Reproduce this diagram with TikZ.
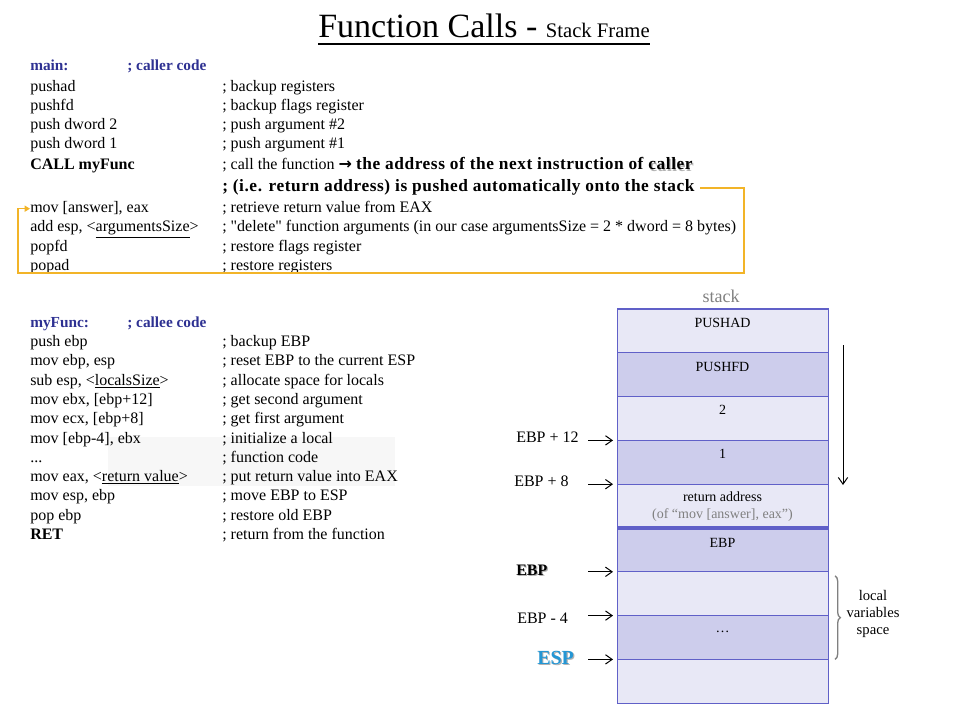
\documentclass[tikz,border=0pt]{standalone}
\usepackage{fontspec}
\setmainfont{Liberation Serif}
\newfontfamily\arrowfont{DejaVu Sans}
\usetikzlibrary{positioning,calc,arrows.meta,decorations.pathreplacing}

\definecolor{headblue}{RGB}{46,49,146}
\definecolor{stackline}{RGB}{96,96,200}
\definecolor{celllight}{RGB}{232,232,246}
\definecolor{celldark}{RGB}{205,205,236}
\definecolor{callorange}{RGB}{242,180,40}
\definecolor{espblue}{RGB}{36,150,212}

\newcommand{\shadowtext}[1]{\makebox[0pt][l]{\hspace{0.9pt}\raisebox{-0.9pt}{\textcolor{gray!60}{#1}}}#1}

\begin{document}
\begin{tikzpicture}[x=0.75pt,y=-0.75pt,
  code/.style={anchor=base west,inner sep=0pt,font=\fontsize{12}{14}\selectfont},
  header/.style={anchor=base west,inner sep=0pt,font=\fontsize{11.5}{13}\selectfont\bfseries,text=headblue},
  loud/.style={anchor=base west,inner sep=0pt,font=\fontsize{13}{15}\selectfont\bfseries\addfontfeature{LetterSpace=3.2}},
  cell/.style={draw=stackline,line width=0.75pt},
  celltext/.style={inner sep=0pt,font=\fontsize{10.5}{12.75}\selectfont},
  ptr/.style={-{Straight Barb[length=5pt,width=7pt]},line width=0.75pt},
  ebplabel/.style={anchor=base west,inner sep=0pt,font=\fontsize{12}{14}\selectfont},
  callflow/.style={draw=callorange,line width=1pt,-{Triangle[length=4pt,width=4.5pt]}}
]
\useasboundingbox (0,0) rectangle (960,720);

%Title
\node[anchor=base west,inner sep=0pt] (title) at (318,38)
  {\fontsize{25.5}{30}\selectfont Function Calls - \fontsize{15.5}{18}\selectfont Stack Frame};
\draw[line width=1.5pt] ($(title.base west)+(0,6)$) -- ($(title.base east)+(0,6)$);

%Caller code
\node[header] (main) at (30,71) {main:};
\node[header] (mainc) at (127,71) {; caller code};
\foreach \i/\y/\cmd/\cmt in {1/92/pushad/{; backup registers},
  2/111/pushfd/{; backup flags register},
  3/130/{push dword 2}/{; push argument \#2},
  4/149/{push dword 1}/{; push argument \#1},
  6/213/{mov [answer], eax}/{; retrieve return value from EAX},
  7/232/{add esp, <\underline{argumentsSize}>}/{; \textquotedbl delete\textquotedbl{} function arguments (in our case argumentsSize = 2 * dword = 8 bytes)},
  8/252/popfd/{; restore flags register},
  9/271/popad/{; restore registers}}
{
  \node[code] (cmd\i) at (30,\y) {\cmd};
  \node[code] (cmt\i) at (222,\y) {\cmt};
}
\node[code,font=\fontsize{12}{14}\selectfont\bfseries] (cmd5) at (30,170) {CALL myFunc};
\node[code] (cmt5) at (222,170) {; call the function {\arrowfont\bfseries →}
  {\fontsize{13}{15}\selectfont\bfseries\addfontfeature{LetterSpace=3.2}the address of the next instruction of \shadowtext{caller}}};
\node[loud] (retline) at (222,192) {; (i.e. return address) is pushed automatically onto the stack};

%Return address back to caller
\draw[callflow] ($(retline.east)+(5,0)$) -| (744,273) -- (18,273) |- (cmd6.west);

%Callee code
\fill[black!3] (108,437) rectangle (395,486);
\node[header] (myfunc) at (30,327) {myFunc:};
\node[header] (myfuncc) at (127,327) {; callee code};
\foreach \i/\cmd/\cmt in {1/{push ebp}/{; backup EBP},
  2/{mov ebp, esp}/{; reset EBP to the current ESP},
  3/{sub esp, <\underline{localsSize}>}/{; allocate space for locals},
  4/{mov ebx, [ebp+12]}/{; get second argument},
  5/{mov ecx, [ebp+8]}/{; get first argument},
  6/{mov [ebp-4], ebx}/{; initialize a local},
  7/{...}/{; function code},
  8/{mov eax, <\underline{return value}>}/{; put return value into EAX},
  9/{mov esp, ebp}/{; move EBP to ESP},
  10/{pop ebp}/{; restore old EBP},
  11/{\textbf{RET}}/{; return from the function}}
{
  \node[code] (fcmd\i) at (30,{346.5+19.3*(\i-1)}) {\cmd};
  \node[code] (fcmt\i) at (222,{346.5+19.3*(\i-1)}) {\cmt};
}

%Stack
\node[font=\fontsize{13.5}{16}\selectfont,text=gray,inner sep=0pt] (stacklbl) at (721,296) {stack};
\foreach \i/\shade in {0/celllight,1/celldark,2/celllight,3/celldark,4/celllight,
  5/celldark,6/celllight,7/celldark,8/celllight}
{
  \filldraw[fill=\shade,cell] (617,{309+43.8*\i}) rectangle (828,{309+43.8*(\i+1)});
  \coordinate (row\i) at (617,{309+43.8*\i});
}
\draw[stackline,line width=2.5pt] (row5) -- ++(211,0);

\node[celltext] (pushad) at (722.5,323) {PUSHAD};
\node[celltext] (pushfd) at (722.5,367) {PUSHFD};
\node[celltext] (argtwo) at (722.5,410) {2};
\node[celltext] (argone) at (722.5,454) {1};
\node[celltext,align=center] (retaddr) at (722.5,506.5)
  {return address\\\textcolor{gray}{(of “mov [answer], eax”)}};
\node[celltext] (oldebp) at (722.5,543) {EBP};
\node[celltext] (dots) at (722.5,632) {\dots};

%Pointers into the stack
\node[ebplabel] (ebp12) at (516,442) {EBP + 12};
\node[ebplabel] (ebp8) at (514,486) {EBP + 8};
\node[ebplabel,font=\fontsize{12}{14}\selectfont\bfseries] (ebp) at (516,575) {\shadowtext{EBP}};
\node[ebplabel] (ebpm4) at (517,623) {EBP - 4};
\node[ebplabel,font=\fontsize{15}{17}\selectfont\bfseries,text=espblue] (esp) at (537,664) {\shadowtext{ESP}};
\foreach \r in {3,4,6,7,8}
{
  \path (row\r) ++(-29,0) coordinate (tail\r);
  \draw[ptr,shorten >=3pt] (tail\r) -- (row\r);
}

%Growth direction
\coordinate (growtop) at (843,345);
\coordinate (growend) at (843,485);
\draw[ptr] (growtop) -- (growend);

%Local variables
\draw[decorate,decoration={brace,amplitude=4pt},gray,line width=1pt]
  ($(row6)+(218,4)$) -- ($(row8)+(218,0)$);
\node[font=\fontsize{11}{13}\selectfont,align=center,inner sep=0pt] (locals) at (873,614)
  {local\\variables\\space};
\end{tikzpicture}
\end{document}
